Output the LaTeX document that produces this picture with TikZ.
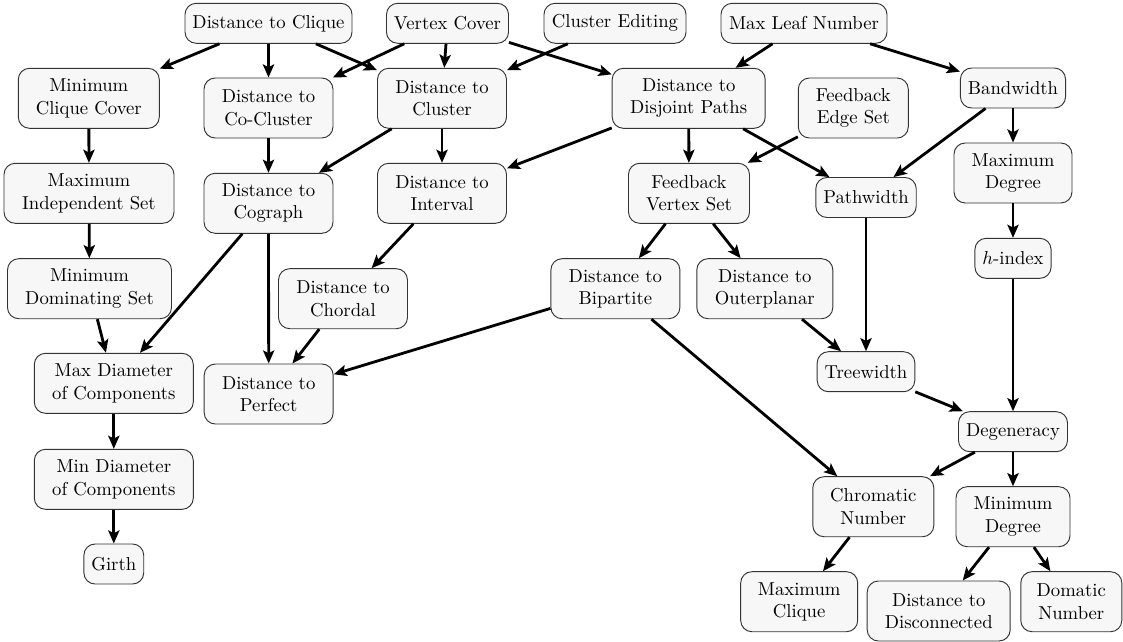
\documentclass[tikz,border=0pt]{standalone}
\usetikzlibrary{arrows.meta}
\begin{document}
\begin{tikzpicture}[x=0.5348pt, y=-0.5348pt,
  param/.style={draw=black!80, fill=black!3, line width=0.5pt, rounded corners=6pt,
    align=center, inner xsep=4pt, inner ysep=2pt, minimum height=21.4pt},
  wd/.style={minimum width=#1*0.5348pt},
  tall/.style={minimum height=32.1pt},
  imp/.style={-{Stealth[length=7pt,width=6pt,inset=1.5pt]}, line width=1.5pt}]
\useasboundingbox (0,0) rectangle (1123,641);

% top row
\node[param, wd=167] (dclique) at (268.5,23.3) {Distance to Clique};
\node[param, wd=122] (vc) at (447.5,23.3) {Vertex Cover};
\node[param, wd=142] (ce) at (615,23.3) {Cluster Editing};
\node[param, wd=166] (mln) at (804,23.3) {Max Leaf Number};

% second row
\node[param, tall, wd=141] (mcc) at (88.8,98.3) {Minimum\\Clique Cover};
\node[param, tall, wd=129] (dcoc) at (268.5,108) {Distance to\\Co-Cluster};
\node[param, tall, wd=129] (dclu) at (442,98.3) {Distance to\\Cluster};
\node[param, tall, wd=153] (ddp) at (688.7,98.3) {Distance to\\Disjoint Paths};
\node[param, tall, wd=110] (fes) at (853.3,108) {Feedback\\Edge Set};
\node[param, wd=104] (bw) at (1013,88) {Bandwidth};

% third row
\node[param, tall, wd=170] (mis) at (89,193.3) {Maximum\\Independent Set};
\node[param, tall, wd=129] (dcog) at (268.5,203.3) {Distance to\\Cograph};
\node[param, tall, wd=129] (dint) at (442,193.3) {Distance to\\Interval};
\node[param, tall, wd=121] (fvs) at (689,193.3) {Feedback\\Vertex Set};
\node[param, wd=100] (pw) at (866,197.5) {Pathwidth};
\node[param, tall, wd=118] (maxdeg) at (1013,173) {Maximum\\Degree};

% fourth row
\node[param, wd=75] (hidx) at (1013,258.3) {$h$-index};
\node[param, tall, wd=164] (mds) at (89.5,288.7) {Minimum\\Dominating Set};
\node[param, tall, wd=129] (dchord) at (343,298.7) {Distance to\\Chordal};
\node[param, tall, wd=129] (dbip) at (615.4,288.7) {Distance to\\Bipartite};
\node[param, tall, wd=136] (douter) at (764.8,288.7) {Distance to\\Outerplanar};
\node[param, wd=97] (tw) at (866,371.7) {Treewidth};

% lower part
\node[param, tall, wd=159] (maxdiam) at (113.8,383.3) {Max Diameter\\of Components};
\node[param, tall, wd=129] (dperf) at (268.7,394) {Distance to\\Perfect};
\node[param, wd=109] (degen) at (1013,431.7) {Degeneracy};
\node[param, tall, wd=159] (mindiam) at (113.8,479.3) {Min Diameter\\of Components};
\node[param, tall, wd=121] (chrom) at (873.3,506.7) {Chromatic\\Number};
\node[param, tall, wd=114] (mindeg) at (1013,516.7) {Minimum\\Degree};
\node[param, wd=59] (girth) at (113.8,564) {Girth};
\node[param, tall, wd=117] (maxclq) at (799.2,601.7) {Maximum\\Clique};
\node[param, tall, wd=143] (ddisc) at (938.7,611) {Distance to\\Disconnected};
\node[param, tall, wd=101] (domatic) at (1071.3,601.7) {Domatic\\Number};

% parameter relations
\draw[imp] (dclique) -- (mcc);
\draw[imp] (dclique) -- (dcoc);
\draw[imp] (dclique) -- (dclu);
\draw[imp] (vc) -- (dcoc);
\draw[imp] (vc) -- (dclu);
\draw[imp] (vc) -- (ddp);
\draw[imp] (ce) -- (dclu);
\draw[imp] (mln) -- (ddp);
\draw[imp] (mln) -- (bw);

\draw[imp] (mcc) -- (mis);
\draw[imp] (mis) -- (mds);
\draw[imp] (mds) -- (maxdiam);
\draw[imp] (maxdiam) -- (mindiam);
\draw[imp] (mindiam) -- (girth);

\draw[imp] (dcoc) -- (dcog);
\draw[imp] (dclu) -- (dcog);
\draw[imp] (dclu) -- (dint);
\draw[imp] (dcog) -- (maxdiam);
\draw[imp] (dcog) -- (dperf);
\draw[imp] (dint) -- (dchord);
\draw[imp] (dchord) -- (dperf);

\draw[imp] (ddp) -- (dint);
\draw[imp] (ddp) -- (fvs);
\draw[imp] (ddp) -- (pw);
\draw[imp] (fes) -- (fvs);
\draw[imp] (fvs) -- (dbip);
\draw[imp] (fvs) -- (douter);
\draw[imp] (dbip) -- (dperf);
\draw[imp] (dbip) -- (chrom);
\draw[imp] (douter) -- (tw);
\draw[imp] (pw) -- (tw);

\draw[imp] (bw) -- (pw);
\draw[imp] (bw) -- (maxdeg);
\draw[imp] (maxdeg) -- (hidx);
\draw[imp] (hidx) -- (degen);
\draw[imp] (tw) -- (degen);
\draw[imp] (degen) -- (chrom);
\draw[imp] (degen) -- (mindeg);
\draw[imp] (chrom) -- (maxclq);
\draw[imp] (mindeg) -- (ddisc);
\draw[imp] (mindeg) -- (domatic);
\end{tikzpicture}
\end{document}
